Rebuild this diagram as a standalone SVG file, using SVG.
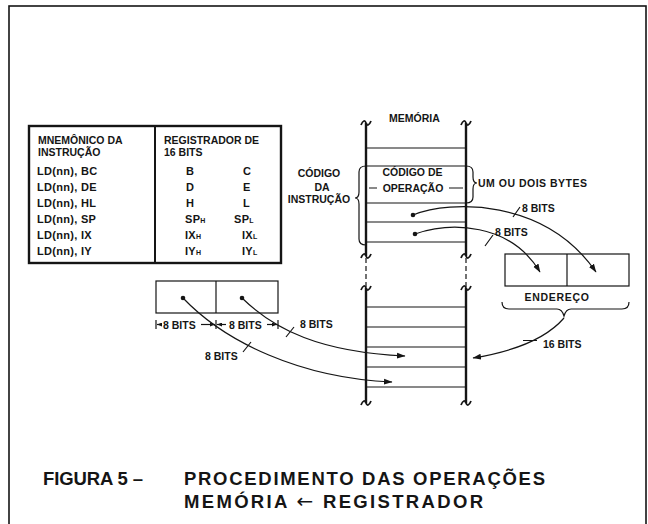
<svg xmlns="http://www.w3.org/2000/svg" width="648" height="524" viewBox="0 0 648 524">
<style>
.t{font-family:"Liberation Sans",Arial,sans-serif;font-weight:bold;font-size:10.5px;fill:#151515}
.r{font-size:11px;letter-spacing:0.3px}
.s{font-size:7px}
.ti{font-family:"Liberation Sans",Arial,sans-serif;font-weight:bold;font-size:18.5px;fill:#151515}
.ar{font-family:"DejaVu Sans",sans-serif;font-weight:normal;font-size:20px}
.ln{stroke:#151515;fill:none;stroke-width:1.2}
.th{stroke:#151515;fill:none;stroke-width:2.4}
.cv{stroke:#151515;fill:none;stroke-width:1.2}
.sq{stroke:#151515;fill:none;stroke-width:1.8}
</style>
<defs>
<marker id="ah" markerUnits="userSpaceOnUse" markerWidth="9" markerHeight="7" refX="8" refY="3.5" orient="auto"><path d="M0,0.5 L8.5,3.5 L0,6.5 Z" fill="#151515"/></marker>
<marker id="sa" markerUnits="userSpaceOnUse" markerWidth="5" markerHeight="4" refX="5" refY="2" orient="auto"><path d="M0,0 L5,2 L0,4 Z" fill="#151515"/></marker>
<path id="sq" d="M-5,2 C-3,-3 -1,-3 0,0 S3,3 5,-2"/>
</defs>
<rect width="648" height="524" fill="#fff"/>
<rect x="9" y="6" width="637" height="530" fill="none" stroke="#151515" stroke-width="1.6"/>

<g id="table">
<rect x="29" y="126" width="252" height="137" class="th"/>
<line x1="155" y1="126" x2="155" y2="263" stroke="#151515" stroke-width="2"/>
<text class="t" x="38" y="144">MNEMÔNICO DA</text>
<text class="t" x="38" y="156">INSTRUÇÃO</text>
<text class="t" x="164" y="144">REGISTRADOR DE</text>
<text class="t" x="164" y="156">16 BITS</text>
<text class="t r" x="37" y="175">LD(nn), BC</text>
<text class="t r" x="37" y="191">LD(nn), DE</text>
<text class="t r" x="37" y="207">LD(nn), HL</text>
<text class="t r" x="37" y="223">LD(nn), SP</text>
<text class="t r" x="37" y="239">LD(nn), IX</text>
<text class="t r" x="37" y="255">LD(nn), IY</text>
<text class="t r" x="186" y="175">B</text>
<text class="t r" x="186" y="191">D</text>
<text class="t r" x="186" y="207">H</text>
<text class="t r" x="185" y="223">SP<tspan class="s">H</tspan></text>
<text class="t r" x="185" y="239">IX<tspan class="s">H</tspan></text>
<text class="t r" x="185" y="255">IY<tspan class="s">H</tspan></text>
<text class="t r" x="243" y="175">C</text>
<text class="t r" x="243" y="191">E</text>
<text class="t r" x="243" y="207">L</text>
<text class="t r" x="234" y="223">SP<tspan class="s">L</tspan></text>
<text class="t r" x="242" y="239">IX<tspan class="s">L</tspan></text>
<text class="t r" x="242" y="255">IY<tspan class="s">L</tspan></text>
</g>

<g id="memory">
<text class="t" x="389" y="122">MEMÓRIA</text>
<line x1="366" y1="123" x2="366" y2="256" class="th"/>
<line x1="466" y1="123" x2="466" y2="256" class="th"/>
<line x1="366" y1="288" x2="366" y2="403" class="th"/>
<line x1="466" y1="288" x2="466" y2="403" class="th"/>
<line x1="366" y1="258" x2="366" y2="287" class="ln" stroke-dasharray="5,3"/>
<line x1="466" y1="258" x2="466" y2="287" class="ln" stroke-dasharray="5,3"/>
<use href="#sq" x="366" y="123" class="sq"/>
<use href="#sq" x="466" y="123" class="sq"/>
<use href="#sq" x="366" y="256" class="sq"/>
<use href="#sq" x="466" y="256" class="sq"/>
<use href="#sq" x="366" y="288" class="sq"/>
<use href="#sq" x="466" y="288" class="sq"/>
<use href="#sq" x="366" y="403" class="sq"/>
<use href="#sq" x="466" y="403" class="sq"/>
<path class="ln" d="M366,148 H466 M366,166 H466 M366,203 H466 M366,222 H466 M366,242 H466"/>
<path class="ln" d="M366,307 H466 M366,327 H466 M366,347 H466 M366,367 H466 M366,387 H466"/>
<text class="t" x="412.5" y="176" text-anchor="middle">CÓDIGO DE</text>
<text class="t" x="413" y="192" text-anchor="middle">OPERAÇÃO</text>
<path class="ln" d="M369,188 H377 M449,188 H463"/>
</g>

<g id="instr-label">
<path class="ln" d="M366,166 q-7,0 -7,6 v20 q0,6 -4,6 q4,0 4,6 v35 q0,6 7,6"/>
<text class="t" x="319" y="177" text-anchor="middle">CÓDIGO</text>
<text class="t" x="322" y="191" text-anchor="middle">DA</text>
<text class="t" x="319" y="203" text-anchor="middle">INSTRUÇÃO</text>
</g>

<g id="bytes-label">
<path class="ln" d="M466,166 q7,0 7,6 v5 q0,6 4,6 q-4,0 -4,6 v8 q0,6 -7,6"/>
<text class="t" x="478" y="187" letter-spacing="0.5">UM OU DOIS BYTES</text>
</g>

<g id="endereco">
<rect x="505" y="254" width="124" height="32" class="ln"/>
<line x1="567" y1="254" x2="567" y2="286" class="ln"/>
<text class="t" x="557" y="301" text-anchor="middle" letter-spacing="0.7">ENDEREÇO</text>
<path class="ln" d="M502,302 q0,7 7,7 h48 q5,0 7,7 q2,-7 7,-7 h51 q7,0 7,-7"/>
</g>

<g id="registrador">
<rect x="156" y="281" width="122" height="32" class="ln"/>
<line x1="216" y1="281" x2="216" y2="313" class="ln"/>
<path class="ln" d="M156,320 V329 M216,320 V329 M278,320 V329"/>
<line x1="162" y1="324.5" x2="157" y2="324.5" class="ln" marker-end="url(#sa)"/>
<line x1="201" y1="324.5" x2="215" y2="324.5" class="ln" marker-end="url(#sa)"/>
<line x1="226" y1="324.5" x2="217" y2="324.5" class="ln" marker-end="url(#sa)"/>
<line x1="267" y1="324.5" x2="277" y2="324.5" class="ln" marker-end="url(#sa)"/>
<text class="t" x="163" y="328.5">8 BITS</text>
<text class="t" x="229" y="328.5">8 BITS</text>
</g>

<g id="connectors">
<circle cx="413" cy="215" r="2.3" fill="#151515"/>
<circle cx="415" cy="234" r="2.3" fill="#151515"/>
<circle cx="183" cy="298" r="2.3" fill="#151515"/>
<circle cx="242" cy="298" r="2.3" fill="#151515"/>
<path class="cv" d="M413,215 C450,200 545,198 596,272" marker-end="url(#ah)"/>
<path class="cv" d="M415,234 C450,222 510,222 540,272" marker-end="url(#ah)"/>
<path class="cv" d="M183,298 C225,342 300,378 392,382" marker-end="url(#ah)"/>
<path class="cv" d="M242,298 C275,330 320,352 405,356" marker-end="url(#ah)"/>
<path class="cv" d="M564,318 C545,340 510,352 473,358" marker-end="url(#ah)"/>
<path class="ln" d="M513,217 L520,207 M485,246 L493,235 M286,337 L294,327 M243,352 L251,342 M523,340.5 H537"/>
<text class="t" x="522" y="212">8 BITS</text>
<text class="t" x="495" y="236">8 BITS</text>
<text class="t" x="300" y="328">8 BITS</text>
<text class="t" x="205" y="360">8 BITS</text>
<text class="t" x="543" y="348">16 BITS</text>
</g>

<g id="title">
<text class="ti" x="43" y="485" textLength="100" lengthAdjust="spacing">FIGURA 5 –</text>
<text class="ti" x="184" y="485" textLength="361" lengthAdjust="spacing">PROCEDIMENTO DAS OPERAÇÕES</text>
<text class="ti" x="184" y="508" textLength="299" lengthAdjust="spacing">MEMÓRIA <tspan class="ar">←</tspan> REGISTRADOR</text>
</g>
</svg>
